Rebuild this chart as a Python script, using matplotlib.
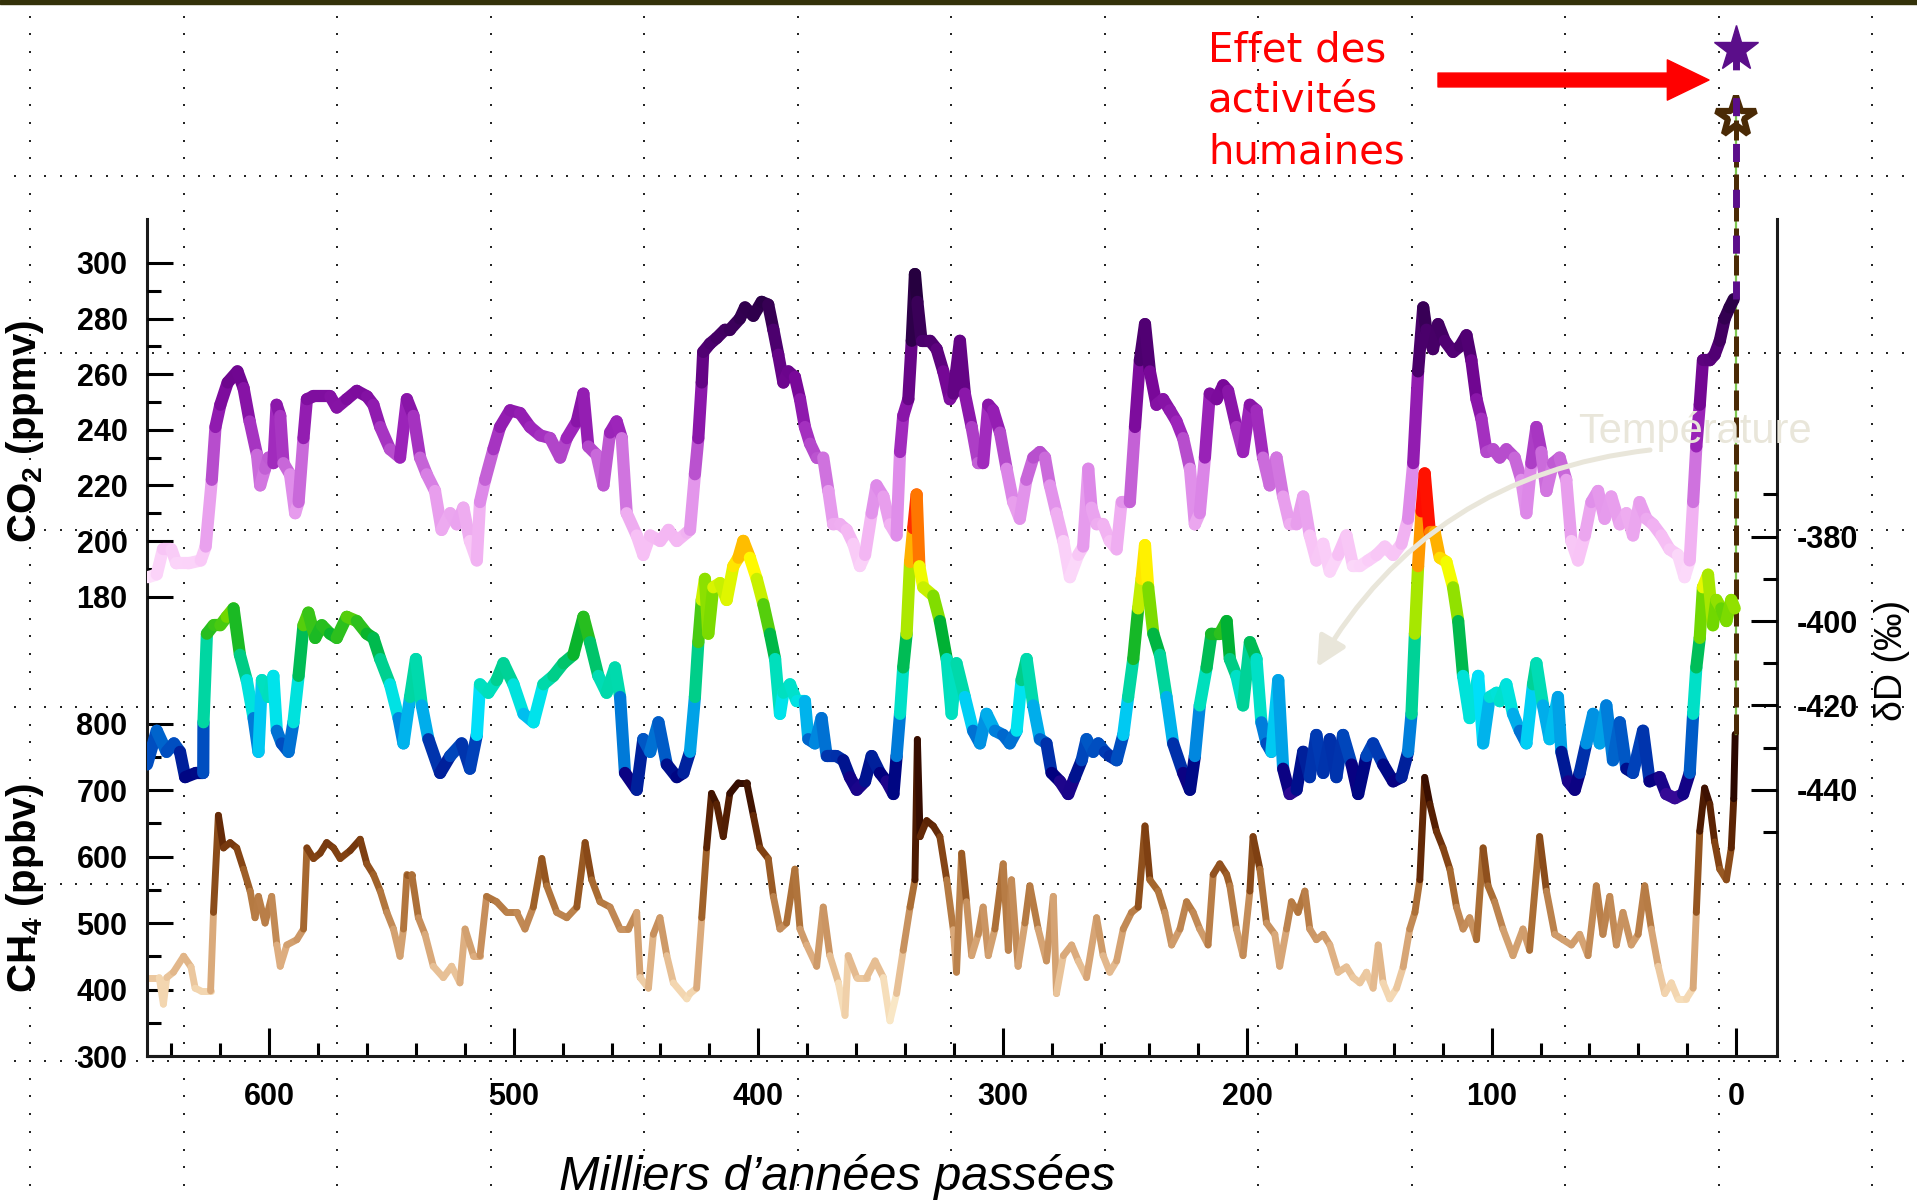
import numpy as np
import matplotlib
matplotlib.use("Agg")
import matplotlib.pyplot as plt
from matplotlib.collections import LineCollection
from matplotlib.colors import LinearSegmentedColormap, Normalize
from matplotlib.patches import Rectangle

plt.rcParams.update({
    "font.family": ["Liberation Sans", "DejaVu Sans"],
    "mathtext.fontset": "custom",
    "mathtext.rm": "Liberation Sans",
    "mathtext.bf": "Liberation Sans:bold",
    "mathtext.it": "Liberation Sans:italic",
})

# ---- data: (thousands of years ago, value) ----
co2_record = [
    (649.5, 187), (646, 188), (643.5, 197), (640, 197), (638, 192), (633, 192), (628, 193), (626, 198), (623.5, 222), (622, 241),
    (620, 249), (617, 257), (613, 261), (610.5, 255), (608, 243), (605, 231), (603.7, 220), (601.7, 226), (600.3, 230), (598.3, 228),
    (597, 249), (595.5, 245), (594.2, 228), (591.5, 224), (589.4, 210), (588, 214), (586, 237), (584.6, 251), (582, 252), (575, 252),
    (572.4, 248), (568.3, 251), (564.2, 254), (560, 252), (557.4, 249), (554.6, 241), (550.6, 233), (546.5, 230), (543.7, 251), (541, 245),
    (538.3, 230), (535.6, 224), (532.2, 218), (529.5, 204), (526, 210), (523.3, 206), (520.6, 212), (517.9, 200), (515.1, 193), (513.8, 214),
    (511.7, 222), (508.3, 233), (505.6, 241), (501.5, 247), (497.4, 246), (493.3, 241), (489.2, 238), (485.1, 237), (481, 230), (478.3, 237),
    (474.2, 243), (471.5, 253), (469.5, 234), (466.1, 231), (463.3, 220), (460.6, 239), (457.9, 243), (455.8, 237), (453.8, 210), (449.7, 202),
    (447, 195), (444.2, 202), (440.1, 200), (436.7, 204), (433.3, 200), (429.2, 203), (427.9, 204), (425.9, 224), (424.5, 237), (423.1, 257),
    (422.5, 268), (419.7, 271), (417, 273), (413.6, 276), (411.6, 276), (407.5, 280), (405.4, 284), (402, 281), (398.6, 286), (395.9, 285),
    (393.8, 276), (391.8, 267), (389.7, 257), (387.7, 261), (385, 259), (382.9, 251), (380.9, 241), (378.8, 235), (376.1, 230), (373.4, 230),
    (371.3, 218), (369.3, 206), (366.6, 206), (363.8, 204), (361.1, 199), (358.4, 191), (356.3, 195), (353.6, 210), (351.6, 220), (348.8, 216),
    (346.1, 206), (343.4, 202), (342, 232), (340.7, 245), (338.6, 251), (337.2, 272), (335.9, 296), (334.9, 286), (333.2, 272), (329.7, 272),
    (327, 269), (324.3, 261), (321.6, 251), (320.2, 253), (317.5, 272), (315.5, 253), (312.7, 241), (310, 228), (308, 228), (305.9, 249),
    (303.9, 247), (301.1, 239), (298.4, 226), (295.7, 214), (293, 208), (290.3, 222), (287.5, 230), (284.8, 232), (282.7, 230), (280.7, 220),
    (278, 210), (275.2, 200), (272.5, 187), (269.1, 195), (267.1, 198), (265, 226), (263.7, 212), (261.6, 206), (258.9, 206), (256.2, 200),
    (253.4, 197), (251.4, 214), (248, 214), (245.9, 241), (243.9, 265), (241.8, 278), (239.8, 261), (237.1, 249), (234.4, 251), (231.6, 247),
    (228.9, 243), (226.2, 237), (223.4, 226), (221.4, 206), (219.4, 210), (217.3, 230), (215.3, 253), (212.5, 251), (209.8, 256), (207.8, 254),
    (204.4, 241), (201.7, 232), (198.9, 249), (196.2, 247), (193.5, 230), (190.8, 220), (188, 230), (185.3, 216), (182.6, 206), (179.8, 206),
    (177.1, 216), (174.4, 202), (171.7, 193), (168.9, 199), (166.2, 189), (162.8, 195), (159.4, 202), (156.7, 191), (153.9, 191), (150.5, 193),
    (147.1, 195), (143.7, 198), (140.3, 195), (136.9, 199), (134.2, 208), (132.1, 228), (130.1, 261), (128, 284), (126.7, 276), (124, 269),
    (121.9, 278), (119.2, 272), (115.8, 268), (113, 270), (110.3, 274), (108.3, 265), (106.2, 251), (104.2, 244), (102.1, 232), (99.4, 233),
    (96.7, 230), (94, 233), (90.6, 230), (87.9, 222), (85.8, 210), (83.8, 228), (81.7, 241), (79.7, 232), (77.6, 218), (74.9, 228),
    (72.2, 230), (69.5, 222), (67.4, 200), (64.7, 193), (61.9, 202), (59.2, 214), (56.5, 218), (53.8, 208), (51.1, 216), (47.6, 206),
    (44.9, 210), (42.2, 202), (39.5, 214), (36.7, 208), (34, 206), (30.6, 202), (27.2, 197), (23.8, 195), (21.1, 187), (19, 193),
    (17.6, 214), (16.3, 234), (14.9, 249), (13.6, 265), (10.8, 265), (8.8, 267), (6.7, 272), (4.7, 280), (2.7, 284), (1, 287),
]

deltaD_record = [
    (650, -434), (646, -426), (642, -431), (639, -429), (636.5, -431), (634.4, -437), (630, -436), (627, -436), (626.9, -424), (625.5, -403),
    (622.8, -401), (620, -401), (617.4, -399), (614.6, -397), (612, -408), (609.2, -414), (606.4, -423), (604.4, -431), (603, -414), (600.3, -418),
    (598.3, -413), (596.9, -426), (594.9, -429), (592.1, -431), (590.1, -424), (588, -413), (586, -401), (584, -398), (581.2, -404), (578.5, -401),
    (575.1, -403), (572.4, -404), (568.3, -399), (564.2, -400), (560.1, -403), (557.4, -404), (554.6, -409), (550.6, -415), (547.1, -423), (545.1, -429),
    (542.4, -418), (540, -409), (537.6, -420), (534.9, -428), (530.1, -436), (526, -432), (521.3, -429), (517.9, -435), (515.1, -427), (513.8, -415),
    (510.4, -417), (507, -414), (504.2, -410), (500.1, -415), (496, -422), (491.9, -424), (487.9, -415), (483.8, -413), (479.7, -410), (475.6, -408),
    (471.5, -399), (468.8, -405), (465.4, -413), (462, -417), (458.6, -411), (456.5, -418), (454.5, -436), (449.7, -440), (447, -428), (444.2, -431),
    (440.8, -424), (437.4, -434), (433.3, -437), (430.6, -436), (427.9, -431), (425.9, -418), (424.5, -405), (423.1, -395), (421.8, -390), (420.4, -403),
    (418.4, -392), (415.6, -391), (412.9, -395), (410.2, -387), (408.1, -385), (406.1, -381), (403.4, -385), (400.6, -390), (397.9, -396), (395.2, -403),
    (393.1, -409), (391.1, -422), (389.7, -417), (387, -415), (384.3, -419), (380.9, -419), (379.5, -428), (376.8, -429), (374.1, -423), (372, -432),
    (368, -432), (365.2, -433), (362.5, -437), (359.7, -440), (356.3, -438), (353.6, -432), (350.2, -436), (347.5, -438), (344.7, -441), (343.4, -432),
    (342, -422), (340.7, -411), (339.3, -403), (337.9, -386), (336.6, -378), (335.2, -370), (334.1, -387), (332.5, -392), (328.4, -394), (325.7, -400),
    (322.9, -409), (320.9, -422), (318.9, -410), (315.5, -418), (312.1, -426), (309.3, -429), (306.6, -422), (303.2, -426), (299.8, -427), (297.1, -429),
    (294.3, -426), (292.3, -414), (290.2, -409), (287.5, -420), (284.8, -428), (282.1, -429), (280, -436), (276.6, -438), (273.2, -441), (270.5, -437),
    (267.7, -433), (265.7, -428), (263, -431), (260.9, -429), (258.2, -431), (256.2, -432), (253.4, -433), (250.7, -427), (248.7, -418), (246.6, -409),
    (244.6, -397), (243.2, -390), (241.8, -382), (240.5, -392), (238.4, -403), (235.7, -408), (233, -418), (230.3, -429), (226.2, -436), (223.4, -440),
    (221.4, -432), (219.4, -420), (216.6, -411), (214.6, -403), (211.2, -403), (208.4, -400), (207.1, -409), (204.4, -413), (201.7, -420), (198.9, -405),
    (196.2, -409), (194.2, -424), (192.1, -429), (190.1, -431), (187.3, -414), (185.3, -435), (182.6, -441), (179.8, -440), (177.1, -431), (174.4, -437),
    (171.7, -427), (168.9, -436), (166.2, -428), (163.5, -437), (160.8, -427), (157.3, -434), (154.6, -441), (151.2, -432), (148.5, -429), (144.4, -434),
    (140.3, -438), (136.9, -437), (134.2, -431), (132.8, -422), (131.4, -403), (130.1, -387), (128.7, -374), (127.4, -365), (125.3, -379), (123.3, -379),
    (121.2, -385), (118.5, -386), (115.8, -392), (113.7, -400), (111.7, -413), (109, -423), (105.5, -413), (103.5, -429), (100.8, -418), (98, -417),
    (96.7, -419), (94, -415), (91.3, -422), (88.5, -426), (85.8, -429), (83.1, -415), (81.7, -410), (79, -420), (76.3, -428), (72.9, -418),
    (71.5, -431), (68.8, -438), (66, -440), (64, -436), (61.3, -429), (58.5, -422), (55.8, -429), (53.1, -420), (50.4, -433), (47.6, -424),
    (44.9, -435), (42.2, -436), (38.1, -426), (35.4, -438), (31.3, -437), (28.6, -441), (25.1, -442), (21.7, -441), (19, -436), (17.6, -422),
    (16.3, -411), (14.9, -404), (13.6, -392), (11.5, -389), (9.5, -401), (8.1, -395), (6.1, -397), (4, -400), (2, -395), (0.6, -397),
]

ch4_record = [
    (649, 418), (645, 418), (643.3, 378), (641.9, 418), (639.2, 426), (635, 450), (632, 434), (630.3, 402), (628, 398), (624, 398),
    (622.8, 516), (620.8, 662), (618.7, 613), (616, 621), (613.3, 613), (610.5, 581), (607.8, 548), (605.8, 508), (604.4, 540), (601.7, 500),
    (599, 540), (596.9, 467), (595.5, 435), (592.8, 467), (588.7, 475), (586, 491), (584.6, 613), (581.9, 597), (579.2, 605), (576.5, 621),
    (573.7, 613), (571, 597), (566.9, 609), (562.8, 626), (560.1, 589), (557.4, 573), (554.6, 548), (551.9, 516), (549.2, 491), (546.5, 450),
    (545.1, 491), (543.7, 573), (541.7, 573), (539, 508), (536.3, 483), (532.9, 435), (528.8, 418), (525.4, 435), (522, 410), (519.9, 491),
    (516.5, 451), (513.8, 451), (511.1, 540), (507, 532), (502.9, 516), (498.8, 516), (495.4, 491), (492, 524), (488.5, 597), (486.5, 556),
    (482.4, 516), (478.3, 508), (474.2, 524), (470.8, 621), (468.1, 565), (464.7, 532), (460.6, 524), (456.5, 491), (453.1, 491), (449.7, 516),
    (448.3, 418), (444.9, 402), (442.9, 483), (440.2, 508), (437.4, 451), (434.7, 410), (429.2, 386), (427.9, 394), (425.2, 402), (423.1, 508),
    (421.1, 613), (419.1, 695), (417, 679), (414.3, 630), (411.6, 695), (408.1, 711), (404.7, 711), (402, 662), (399.3, 613), (395.9, 597),
    (393.8, 540), (391.1, 491), (388.4, 500), (385, 581), (382.9, 491), (380.2, 467), (376.1, 435), (373.4, 524), (370.7, 451), (367.2, 410),
    (364.5, 361), (363.2, 451), (359.7, 418), (355.7, 418), (352.2, 443), (348.8, 418), (346.1, 353), (343.4, 394), (340.7, 459), (337.9, 524),
    (335.9, 565), (334.9, 776), (333.8, 630), (331.1, 654), (328.4, 646), (325.7, 630), (322.9, 565), (320.2, 490), (318.9, 426), (316.8, 605),
    (314.8, 532), (312.7, 451), (310, 483), (308, 524), (305.9, 451), (303.2, 491), (299.8, 589), (297.7, 459), (296.4, 565), (293.7, 435),
    (290.9, 500), (288.9, 556), (285.5, 491), (282.1, 443), (279.3, 540), (278, 394), (275.2, 451), (271.8, 467), (269.1, 443), (265.7, 418),
    (261.6, 508), (258.9, 451), (256.2, 426), (253.4, 443), (250.7, 491), (247.3, 516), (244.6, 524), (241.8, 646), (239.8, 565), (236.4, 548),
    (233.7, 516), (230.9, 467), (227.5, 491), (224.8, 532), (222.1, 516), (219.4, 491), (216, 467), (213.9, 573), (211.2, 589), (208.4, 573),
    (207.1, 556), (204.4, 491), (201.7, 451), (198.9, 548), (197.6, 630), (194.8, 581), (192.1, 500), (188.7, 483), (186.7, 435), (183.9, 491),
    (181.9, 532), (179.2, 516), (176.4, 548), (174.4, 491), (171.7, 475), (168.9, 483), (166.2, 467), (162.8, 426), (159.4, 434), (156.7, 418),
    (153.9, 410), (151.2, 426), (148.5, 402), (146.4, 467), (144.4, 410), (141.7, 386), (138.9, 402), (136.2, 434), (133.5, 491), (131.4, 516),
    (129.4, 565), (127.4, 719), (125.3, 679), (122.6, 638), (119.9, 613), (117.1, 581), (114.4, 524), (111.7, 491), (109, 508), (106.2, 475),
    (103.5, 613), (101.5, 556), (98.8, 532), (95.4, 491), (91.3, 451), (87.2, 491), (84.5, 459), (80.4, 630), (77.6, 548), (74.2, 483),
    (70.8, 475), (67.4, 467), (64, 483), (60.6, 451), (57.2, 556), (54.5, 483), (51.7, 540), (49, 467), (46.3, 516), (42.9, 467),
    (40.1, 483), (37.4, 556), (34.7, 491), (31.9, 435), (29.2, 394), (26.5, 410), (23.8, 386), (20.4, 386), (17.6, 402), (16.3, 516),
    (14.9, 638), (12.9, 703), (10.8, 679), (8.8, 622), (6.7, 581), (4, 565), (2, 613), (1, 687), (0.4, 784),
]

# present-day values (stars) reached by the dashed lines
co2_today = 377
ch4_today = 1712

# ---- figure in pixel units ----
W, H = 1917, 1200
fig = plt.figure(figsize=(W / 100, H / 100), dpi=100)
fig.patch.set_facecolor("white")


def fig_rect(left, top, right, bottom):
    return [left / W, 1 - bottom / H, (right - left) / W, (bottom - top) / H]


# background layer: slide dotted grid + top band
bg = fig.add_axes([0, 0, 1, 1], zorder=0)
bg.set_xlim(0, W)
bg.set_ylim(H, 0)
bg.axis("off")
bg.add_patch(Rectangle((0, 0), W, 4, color="#34320a"))
col_x = np.arange(30, W, 153.5)
row_y = np.arange(176, H, 177)
dots_x = np.arange(30 % 15.35, W, 15.35)
dots_y = np.arange(176 % 17.7, H, 17.7)
for y in row_y:
    bg.scatter(dots_x, np.full_like(dots_x, y), s=3.4, marker="s", c="#262626", linewidths=0)
for x in col_x:
    bg.scatter(np.full_like(dots_y, x), dots_y, s=3.4, marker="s", c="#262626", linewidths=0)

# chart axes (three scales stacked on the same frame)
rect = fig_rect(147, 219, 1777, 1056)
ax = fig.add_axes(rect, zorder=1)
ax_co2 = fig.add_axes(rect, sharex=ax, frameon=False, zorder=2)
ax_dd = fig.add_axes(rect, sharex=ax, frameon=False, zorder=3)
for a in (ax, ax_co2, ax_dd):
    a.set_facecolor("none")

ax.set_xlim(650, -16.7)
ax.set_ylim(300, 1559)
ax_co2.set_ylim(14.8, 315.8)
ax_dd.set_ylim(-503.1, -304.7)

co2_cmap = LinearSegmentedColormap.from_list("co2", [
    (0.0, "#ffe8fd"), (0.13, "#f6bcf4"), (0.30, "#dc86e8"), (0.48, "#9c24ba"),
    (0.61, "#780898"), (0.74, "#500072"), (0.87, "#2c0048"), (1.0, "#1c0032")])
dd_cmap = LinearSegmentedColormap.from_list("dd", [
    (0.0, "#3a0a98"), (0.064, "#00007e"), (0.14, "#0040b8"), (0.205, "#0088e0"),
    (0.27, "#00e4fa"), (0.333, "#00e0c0"), (0.41, "#00c878"), (0.487, "#00b030"),
    (0.564, "#70d800"), (0.628, "#c8f000"), (0.692, "#ffff00"), (0.77, "#ffb000"),
    (0.833, "#ff6000"), (0.9, "#ff1000"), (1.0, "#ff0000")])
ch4_cmap = LinearSegmentedColormap.from_list("ch4", [
    (0.0, "#fff6d8"), (0.116, "#f2d4ae"), (0.233, "#ddae80"), (0.349, "#c48c58"),
    (0.465, "#a86a30"), (0.581, "#844414"), (0.698, "#5c2404"), (0.814, "#380e00"),
    (1.0, "#1a0000")])


def gradient_line(axis, record, cmap, vmin, vmax, lw):
    age = np.array([r[0] for r in record], dtype=float)
    val = np.array([r[1] for r in record], dtype=float)
    pts = np.column_stack([age, val])
    segs = np.stack([pts[:-1], pts[1:]], axis=1)
    lc = LineCollection(segs, cmap=cmap, norm=Normalize(vmin, vmax),
                        linewidths=lw, capstyle="round", joinstyle="round")
    lc.set_array((val[:-1] + val[1:]) / 2)
    axis.add_collection(lc)


gradient_line(ax, ch4_record, ch4_cmap, 350, 780, 5.0)
gradient_line(ax_co2, co2_record, co2_cmap, 185, 300, 8.8)
gradient_line(ax_dd, deltaD_record, dd_cmap, -442, -364, 8.8)

# recent rise: dashed lines up to today's stars
ax.plot([0, 0], [ch4_record[-1][1], ch4_today], color="#7ec850", lw=1.6, clip_on=False, zorder=4)
ax.plot([0, 0], [ch4_record[-1][1], ch4_today], color="#4a2a05", lw=3.6,
        ls=(0, (4, 1.4)), clip_on=False, zorder=5)
ax.plot(0, ch4_today, marker="*", ms=30, mfc="none", mec="#4a2a05", mew=4.5, clip_on=False, zorder=6)
ax_co2.plot([0, 0], [co2_record[-1][1], co2_today], color="#5b0e8a", lw=5,
            ls=(0, (2.6, 4)), clip_on=False, zorder=5)
ax_co2.plot(0, co2_today, marker="*", ms=34, color="#5b0e8a", clip_on=False, zorder=6)

# ---- spines and ticks ----
spine_kw = dict(color="#1a1a1a", linewidth=2.2)
ax.spines["top"].set_visible(False)
for s in ("left", "bottom", "right"):
    ax.spines[s].set(**spine_kw)

tick_font = dict(fontsize=22, fontweight="bold")

ax.set_xticks(np.arange(0, 601, 100))
ax.set_xticks([t for t in range(0, 641, 20) if t % 100], minor=True)
ax.set_xticklabels([str(t) for t in range(0, 601, 100)], **tick_font)
ax.tick_params(axis="x", which="major", direction="in", length=20, width=2.2, pad=19, top=False)
ax.tick_params(axis="x", which="minor", direction="in", length=9.5, width=2.2, top=False)

ax.set_yticks(np.arange(300, 801, 100))
ax.set_yticks(np.arange(350, 751, 100), minor=True)
ax.set_yticklabels([str(t) for t in range(300, 801, 100)], **tick_font)
ax.tick_params(axis="y", which="major", direction="in", length=19, width=2.2, pad=14, right=False)
ax.tick_params(axis="y", which="minor", direction="in", length=10, width=2.2, right=False)

ax_co2.xaxis.set_visible(False)
ax_co2.set_yticks(np.arange(180, 301, 20))
ax_co2.set_yticks(np.arange(190, 291, 20), minor=True)
ax_co2.set_yticklabels([str(t) for t in range(180, 301, 20)], **tick_font)
ax_co2.tick_params(axis="y", which="major", direction="in", length=19, width=2.2, pad=14)
ax_co2.tick_params(axis="y", which="minor", direction="in", length=10, width=2.2)

ax_dd.xaxis.set_visible(False)
ax_dd.yaxis.tick_right()
ax_dd.set_yticks(np.arange(-440, -379, 20))
ax_dd.set_yticks(np.arange(-450, -369, 20), minor=True)
ax_dd.set_yticklabels([str(t) for t in range(-440, -379, 20)], **tick_font)
ax_dd.tick_params(axis="y", which="major", direction="in", length=19, width=2.2, pad=14)
ax_dd.tick_params(axis="y", which="minor", direction="in", length=10, width=2.2)

# axis titles
bg.text(25, 432, r"CO$_\mathbf{2}$ (ppmv)", rotation=90, ha="center", va="center",
        fontsize=29, fontweight="bold")
bg.text(25, 888, r"CH$_\mathbf{4}$ (ppbv)", rotation=90, ha="center", va="center",
        fontsize=29, fontweight="bold")
bg.text(1892, 660, "δD (‰)", rotation=90, ha="center", va="center", fontsize=27)
bg.text(837, 1190, "Milliers d’années passées", ha="center", va="baseline",
        fontsize=35, style="italic")

# ---- overlay: annotations ----
fg = fig.add_axes([0, 0, 1, 1], zorder=10)
fg.set_xlim(0, W)
fg.set_ylim(H, 0)
fg.axis("off")

for line, base in (("Effet des", 62), ("activités", 112), ("humaines", 163)):
    fg.text(1208, base, line, color="#ff0000", fontsize=29, family="DejaVu Sans",
            va="baseline", ha="left")
fg.annotate("", xy=(1709, 80), xytext=(1438, 80),
            arrowprops=dict(arrowstyle="simple,head_length=1.5,head_width=1.45,tail_width=0.5",
                            mutation_scale=20, color="#ff0000", shrinkA=0, shrinkB=0))

pale = "#e9e6da"
fg.text(1578, 443, "Température", color=pale, fontsize=30, va="baseline", ha="left")
fg.annotate("", xy=(1317, 667), xytext=(1650, 450),
            arrowprops=dict(arrowstyle="-|>,head_length=0.9,head_width=0.45", mutation_scale=20,
                            connectionstyle="arc3,rad=0.25", color=pale, lw=3.6,
                            shrinkA=0, shrinkB=0))

fig.savefig("out.png", dpi=100)
